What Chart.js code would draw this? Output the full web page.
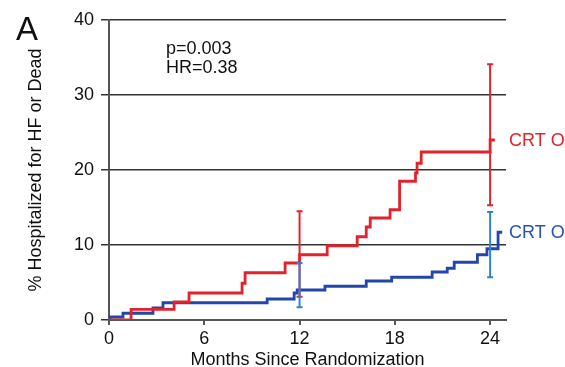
<!DOCTYPE html>
<html><head><meta charset="utf-8">
<script src="https://cdn.jsdelivr.net/npm/chart.js@4/dist/chart.umd.min.js"></script>
<style>html,body{margin:0;padding:0;background:#fff;}#wrap{width:565px;height:367px;position:relative;}</style>
</head><body><div id="wrap"><canvas id="c"></canvas></div>
<script>
// ---- data ----
const redMonths = [0, 1.39, 4.1, 5.04, 8.38, 8.57, 11.09, 12.0, 13.74, 15.63, 16.2, 16.45, 17.7, 18.3, 19.3, 19.4, 19.66, 24.0, 24.3];
const redPct    = [0, 1.43, 2.4, 3.6, 4.9, 6.3, 7.6, 8.7, 9.9, 11.1, 12.4, 13.6, 14.7, 18.5, 19.6, 20.9, 22.4, 24.0, 24.0];
const blueMonths = [0, 0.06, 0.88, 2.77, 3.4, 9.96, 11.66, 11.85, 13.6, 16.2, 17.8, 20.35, 21.3, 21.74, 23.2, 23.8, 24.5, 24.76];
const bluePct    = [0, 0.4, 0.9, 1.6, 2.3, 2.8, 3.6, 4.0, 4.5, 5.2, 5.7, 6.4, 6.9, 7.7, 8.7, 9.5, 11.7, 11.7];
const barMonths = [12, 24];
const redLow  = [3.1, 15.3];
const redHigh = [14.5, 34.1];
const blueLow  = [1.7, 5.7];
const blueHigh = [7.6, 14.4];
const xTicks = [0, 6, 12, 18, 24];
const yTicks = [0, 10, 20, 30, 40];
const seriesNames = ['CRT OFF', 'CRT ON'];
const statsText = ['p=0.003', 'HR=0.38'];
const panelLabel = 'A';
const xTitle = 'Months Since Randomization';
const yTitle = '% Hospitalized for HF or Dead';

const RED = '#e2232b', BLUE = '#2246ac', BLUEBAR = '#2b84d8', FONT = "'Liberation Sans', Arial, sans-serif";

const toPts = (xs, ys) => xs.map((x, i) => ({x, y: ys[i]}));

const extras = {
  id: 'extras',
  afterDatasetsDraw(chart) {
    const {ctx, scales: {x, y}} = chart;
    const bar = (m, lo, hi, color) => {
      const px = x.getPixelForValue(m), py1 = y.getPixelForValue(lo), py2 = y.getPixelForValue(hi);
      ctx.save();
      ctx.strokeStyle = color; ctx.lineWidth = 2;
      ctx.beginPath();
      ctx.moveTo(px, py1); ctx.lineTo(px, py2);
      ctx.moveTo(px - 3, py1); ctx.lineTo(px + 3, py1);
      ctx.moveTo(px - 3, py2); ctx.lineTo(px + 3, py2);
      ctx.stroke();
      ctx.restore();
    };
    barMonths.forEach((m, i) => bar(m, redLow[i], redHigh[i], RED));
    barMonths.forEach((m, i) => bar(m, blueLow[i], blueHigh[i], BLUEBAR));
  },
  afterDraw(chart) {
    const {ctx, scales: {x, y}} = chart;
    ctx.save();
    ctx.fillStyle = '#111';
    ctx.textBaseline = 'middle';
    ctx.textAlign = 'left';
    ctx.font = '33px ' + FONT;
    ctx.fillText(panelLabel, 16, 31);
    ctx.font = '18px ' + FONT;
    ctx.fillText(statsText[0], 166, 49);
    ctx.fillText(statsText[1], 166, 68);
    const lx = x.getPixelForValue(25) + 3;
    ctx.fillStyle = RED;
    ctx.fillText(seriesNames[0], lx, y.getPixelForValue(redPct[redPct.length - 1]) + 1);
    ctx.fillStyle = '#2753b5';
    ctx.fillText(seriesNames[1], lx, y.getPixelForValue(bluePct[bluePct.length - 1]) + 1);
    ctx.restore();
  }
};

new Chart(document.getElementById('c'), {
  type: 'line',
  data: {
    datasets: [
      {label: seriesNames[0], data: toPts(redMonths, redPct), borderColor: RED, borderWidth: 2.8, stepped: 'before', pointRadius: 0, fill: false},
      {label: seriesNames[1], data: toPts(blueMonths, bluePct), borderColor: BLUE, borderWidth: 2.8, stepped: 'before', pointRadius: 0, fill: false}
    ]
  },
  options: {
    responsive: true, maintainAspectRatio: false, animation: false,
    layout: {padding: {top: 20, right: 59, bottom: 0, left: 0}},
    plugins: {legend: {display: false}, tooltip: {enabled: false}},
    scales: {
      x: {
        type: 'linear', min: 0, max: 25,
        afterBuildTicks: s => { s.ticks = xTicks.map(v => ({value: v})); },
        afterFit: s => { s.height = 47; },
        grid: {drawOnChartArea: false, drawTicks: true, tickLength: 5, color: '#555', lineWidth: 2},
        border: {display: true, color: '#555', width: 2},
        ticks: {color: '#111', font: {family: FONT, size: 18}, padding: 3, maxRotation: 0, callback: v => String(v)},
        title: {display: true, text: xTitle, color: '#111', font: {family: FONT, size: 18, lineHeight: 0.8}, padding: {top: 0, bottom: 0}}
      },
      y: {
        type: 'linear', min: 0, max: 40,
        afterBuildTicks: s => { s.ticks = yTicks.map(v => ({value: v})); },
        afterFit: s => { s.width = 109; },
        grid: {color: '#333', lineWidth: 1.5, tickLength: 8},
        border: {display: true, color: '#555', width: 2},
        ticks: {color: '#111', font: {family: FONT, size: 18}, padding: 7, callback: v => String(v)},
        title: {display: true, text: yTitle, color: '#111', font: {family: FONT, size: 18}, padding: {top: 25, bottom: 0}}
      }
    }
  },
  plugins: [extras]
});
</script></body></html>
